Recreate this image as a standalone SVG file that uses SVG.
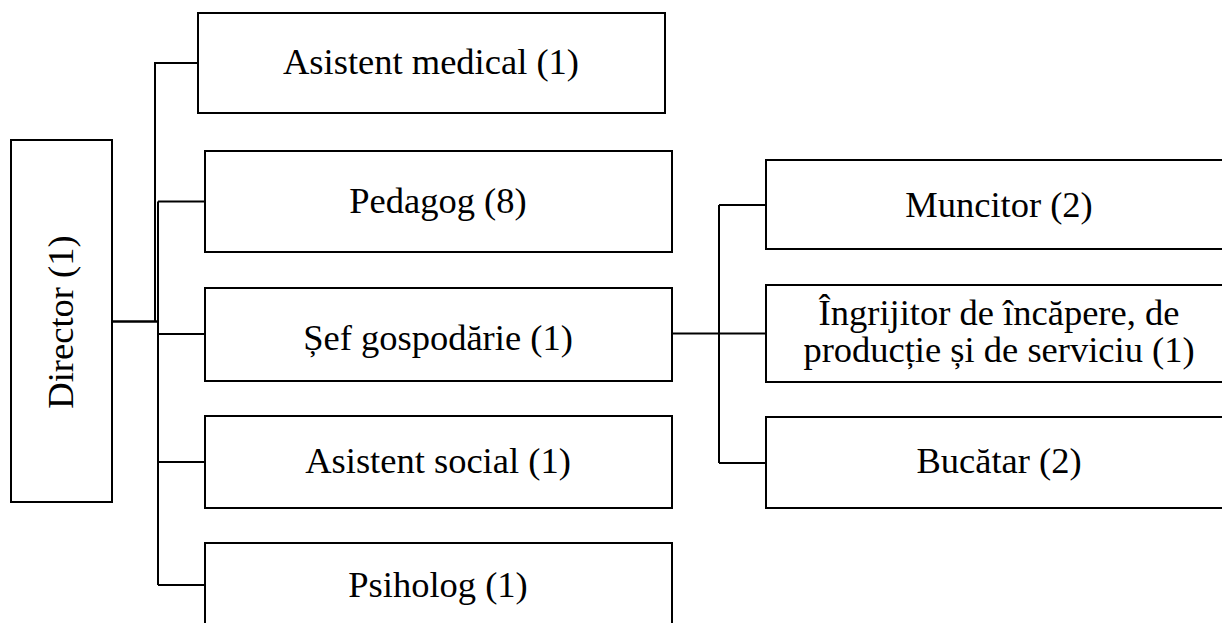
<svg xmlns="http://www.w3.org/2000/svg" width="1222" height="623" viewBox="0 0 1222 623">
<style>
.box{fill:#fff;stroke:#000;stroke-width:2}
.t{font-family:"Liberation Serif","Times New Roman",serif;font-size:36.5px;fill:#000;text-anchor:middle}
.c{fill:none;stroke:#000;stroke-width:2}
</style>
<rect width="1222" height="623" fill="#fff"/>
<g id="connectors">
<path class="c" d="M112 321.5H158" style="stroke-width:2.6"/>
<path class="c" d="M155 321V63H198"/>
<path class="c" d="M158 321V585"/>
<path class="c" d="M158 201.5V585M158 201.5H205M158 334H205M158 462H205M158 585H205"/>
<path class="c" d="M672 333.5H766M719 205V463M719 205H766M719 463H766"/>
</g>
<g id="director">
<rect class="box" x="11" y="140" width="101" height="362"/>
<text class="t" transform="translate(73,322) rotate(-90)">Director (1)</text>
</g>
<g id="asistent-medical">
<rect class="box" x="198" y="13" width="467" height="100"/>
<text class="t" x="431" y="74">Asistent medical (1)</text>
</g>
<g id="pedagog">
<rect class="box" x="205" y="151" width="467" height="101"/>
<text class="t" x="438" y="213">Pedagog (8)</text>
</g>
<g id="sef-gospodarie">
<rect class="box" x="205" y="288" width="467" height="93"/>
<text class="t" x="438" y="350">Șef gospodărie (1)</text>
</g>
<g id="asistent-social">
<rect class="box" x="205" y="416" width="467" height="92"/>
<text class="t" x="438" y="473">Asistent social (1)</text>
</g>
<g id="psiholog">
<rect class="box" x="205" y="543" width="467" height="100"/>
<text class="t" x="438" y="597">Psiholog (1)</text>
</g>
<g id="muncitor">
<rect class="box" x="766" y="160" width="466" height="89"/>
<text class="t" x="999" y="217">Muncitor (2)</text>
</g>
<g id="ingrijitor">
<rect class="box" x="766" y="285" width="466" height="97"/>
<text class="t" x="999" y="325">Îngrijitor de încăpere, de</text>
<text class="t" x="999" y="362">producție și de serviciu (1)</text>
</g>
<g id="bucatar">
<rect class="box" x="766" y="417" width="466" height="91"/>
<text class="t" x="999" y="473">Bucătar (2)</text>
</g>
</svg>
